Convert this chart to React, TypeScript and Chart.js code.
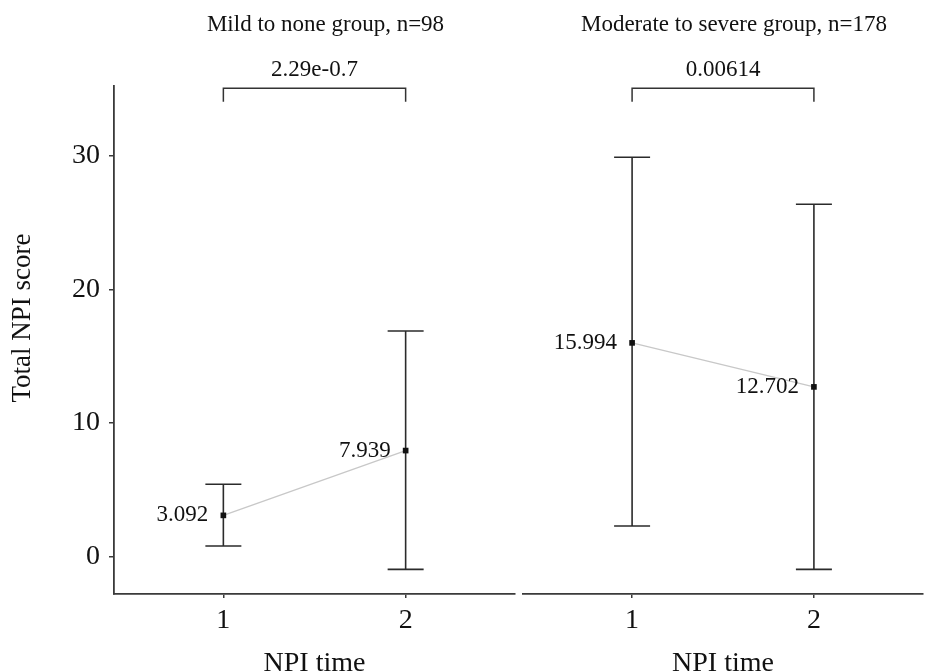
import React, { useEffect, useRef } from "react";
import { Chart, registerables } from "chart.js";

Chart.register(...registerables);

// ---- data ----
const timePoints = [1, 2];
const xTickValues = [1, 2];
const yTickValues = [0, 10, 20, 30];

const mildMeans = [3.092, 7.939];
const mildLower = [0.8, -0.95];
const mildUpper = [5.42, 16.88];

const severeMeans = [15.994, 12.702];
const severeLower = [2.3, -0.95];
const severeUpper = [29.88, 26.36];

const panelTitles = ["Mild to none group, n=98", "Moderate to severe group, n=178"];
const pValueLabels = ["2.29e-0.7", "0.00614"];
const bracketTop = 35.04;
const bracketTip = 34.04;

const xTitle = "NPI time";
const yTitle = "Total NPI score";

const yMin = -2.79;
const yMax = 35.21;
const xMin = 0.4;
const xMax = 2.6;

const FONT = "'Liberation Serif', 'Times New Roman', Times, serif";
const TEXT = "#111111";
const AXIS = "#3a3a3a";

function makeConfig(panel: number): any {
  const means = panel === 0 ? mildMeans : severeMeans;
  const lower = panel === 0 ? mildLower : severeLower;
  const upper = panel === 0 ? mildUpper : severeUpper;
  const showY = panel === 0;

  const extras = {
    id: "panelExtras" + panel,
    beforeDatasetsDraw(chart: any) {
      const { ctx } = chart;
      const x = chart.scales.x;
      const y = chart.scales.y;
      ctx.save();
      ctx.strokeStyle = "#2b2b2b";
      ctx.lineWidth = 1.6;
      timePoints.forEach((t, i) => {
        const px = x.getPixelForValue(t);
        const yl = y.getPixelForValue(lower[i]);
        const yu = y.getPixelForValue(upper[i]);
        ctx.beginPath();
        ctx.moveTo(px, yl);
        ctx.lineTo(px, yu);
        ctx.moveTo(px - 18, yl);
        ctx.lineTo(px + 18, yl);
        ctx.moveTo(px - 18, yu);
        ctx.lineTo(px + 18, yu);
        ctx.stroke();
      });
      ctx.restore();
    },
    afterDraw(chart: any) {
      const { ctx, chartArea } = chart;
      const x = chart.scales.x;
      const y = chart.scales.y;
      ctx.save();
      ctx.fillStyle = TEXT;
      // value labels
      ctx.font = `23px ${FONT}`;
      ctx.textAlign = "right";
      ctx.textBaseline = "middle";
      timePoints.forEach((t, i) => {
        const px = x.getPixelForValue(t);
        const py = y.getPixelForValue(means[i]);
        ctx.fillText(means[i].toFixed(3), px - 15, py);
      });
      // p-value
      ctx.textAlign = "center";
      const bx = (x.getPixelForValue(timePoints[0]) + x.getPixelForValue(timePoints[1])) / 2;
      ctx.fillText(pValueLabels[panel], bx, y.getPixelForValue(bracketTop) - 18);
      // panel title
      const cx = (chartArea.left + chartArea.right) / 2 + 11;
      ctx.fillText(panelTitles[panel], cx, chartArea.top - 61.5);
      // y title
      if (showY) {
        ctx.font = `27px ${FONT}`;
        ctx.translate(chartArea.left - 91, (chartArea.top + chartArea.bottom) / 2 - 22);
        ctx.rotate(-Math.PI / 2);
        ctx.fillText(yTitle, 0, 0);
      }
      ctx.restore();
    },
  };

  return {
    type: "scatter",
    data: {
      datasets: [
        {
          data: [
            { x: timePoints[0], y: bracketTip },
            { x: timePoints[0], y: bracketTop },
            { x: timePoints[1], y: bracketTop },
            { x: timePoints[1], y: bracketTip },
          ],
          showLine: true,
          borderColor: "#333333",
          borderWidth: 1.5,
          pointRadius: 0,
          clip: false,
        },
        {
          data: timePoints.map((t, i) => ({ x: t, y: means[i] })),
          showLine: true,
          borderColor: "#c8c8c8",
          borderWidth: 1.3,
          pointStyle: "rect",
          pointRadius: 4,
          pointBackgroundColor: "#111111",
          pointBorderColor: "#111111",
          pointBorderWidth: 0,
        },
      ],
    },
    options: {
      responsive: false,
      animation: false,
      events: [],
      layout: {
        padding: { top: 86, bottom: 0, left: showY ? 0 : 4, right: showY ? 4 : 2 },
      },
      plugins: {
        legend: { display: false },
        tooltip: { enabled: false },
        title: { display: false },
      },
      scales: {
        x: {
          type: "linear",
          min: xMin,
          max: xMax,
          afterBuildTicks: (s: any) => {
            s.ticks = xTickValues.map((v) => ({ value: v }));
          },
          afterFit: (s: any) => {
            s.height = 78;
          },
          grid: {
            drawOnChartArea: false,
            drawTicks: true,
            tickLength: 4,
            color: AXIS,
            lineWidth: 1.5,
          },
          border: { display: true, color: AXIS, width: 1.8 },
          ticks: {
            font: { size: 28, family: FONT },
            color: TEXT,
            padding: 6,
            callback: (v: any) => String(v),
          },
          title: {
            display: true,
            text: xTitle,
            font: { size: 28, family: FONT, lineHeight: 1 },
            color: TEXT,
            padding: { top: 0, bottom: -6 },
          },
        },
        y: {
          type: "linear",
          display: showY,
          min: yMin,
          max: yMax,
          afterBuildTicks: (s: any) => {
            s.ticks = yTickValues.map((v) => ({ value: v }));
          },
          afterFit: (s: any) => {
            s.width = showY ? 114 : 0;
          },
          grid: {
            drawOnChartArea: false,
            drawTicks: true,
            tickLength: 5,
            color: AXIS,
            lineWidth: 1.5,
          },
          border: { display: true, color: AXIS, width: 1.8 },
          ticks: {
            font: { size: 28, family: FONT },
            color: TEXT,
            padding: 9,
            callback: (v: any) => String(v),
          },
        },
      },
    },
    plugins: [extras],
  };
}

export default function App() {
  const leftRef = useRef<HTMLCanvasElement | null>(null);
  const rightRef = useRef<HTMLCanvasElement | null>(null);

  useEffect(() => {
    Chart.defaults.font.family = FONT;
    const charts: Chart[] = [];
    if (leftRef.current) charts.push(new Chart(leftRef.current, makeConfig(0)));
    if (rightRef.current) charts.push(new Chart(rightRef.current, makeConfig(1)));
    return () => charts.forEach((c) => c.destroy());
  }, []);

  return (
    <div
      style={{
        position: "absolute",
        left: 0,
        top: 0,
        width: 927,
        height: 672,
        background: "#ffffff",
        overflow: "hidden",
      }}
    >
      <div style={{ position: "absolute", left: 0, top: 0, width: 519, height: 672 }}>
        <canvas ref={leftRef} width={519} height={672} style={{ display: "block" }} />
      </div>
      <div style={{ position: "absolute", left: 519, top: 0, width: 408, height: 672 }}>
        <canvas ref={rightRef} width={408} height={672} style={{ display: "block" }} />
      </div>
    </div>
  );
}
